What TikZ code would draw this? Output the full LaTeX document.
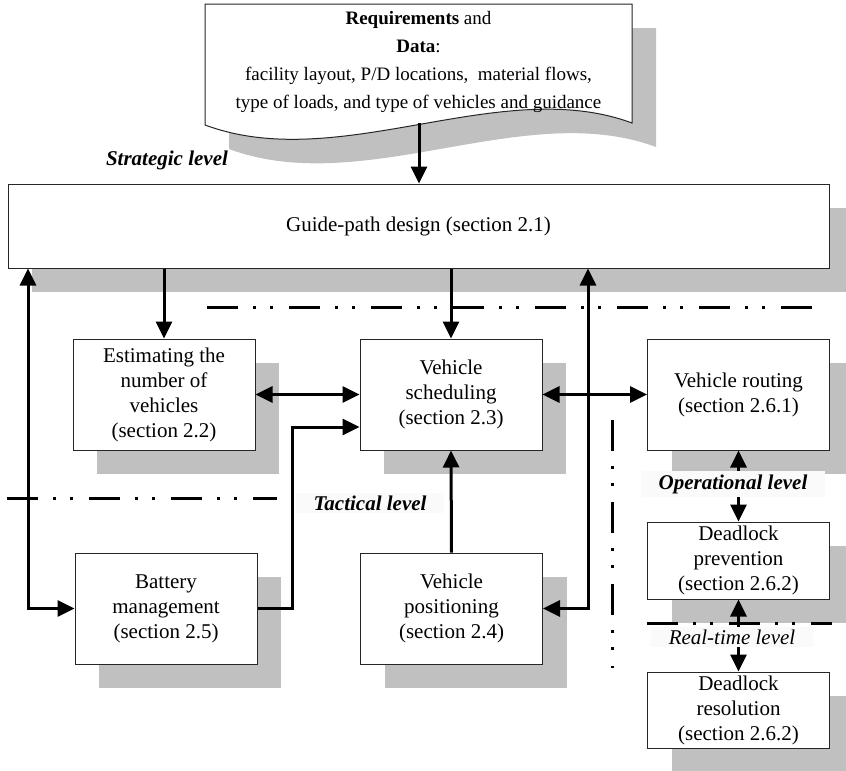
\documentclass[tikz,border=0pt]{standalone}
\usepackage{fontspec}
\setmainfont{Liberation Serif}
\usetikzlibrary{arrows.meta,shadows}

\definecolor{shadowgray}{RGB}{192,192,192}
\definecolor{labelbg}{RGB}{250,250,250}

\begin{document}
\begin{tikzpicture}[x=1pt,y=-1pt,
    block/.style={draw=black!85, line width=1pt, fill=white, align=center, inner sep=0pt,
        minimum width=182pt, minimum height=111pt, font=\fontsize{21}{25}\selectfont,
        drop shadow={shadow xshift=24pt, shadow yshift=-24pt, fill=shadowgray, opacity=1}},
    lvl/.style={font=\fontsize{21}{25}\selectfont\bfseries\itshape, fill=labelbg, inner xsep=18pt, inner ysep=3pt},
    arr/.style={line width=3pt, -{Triangle[length=17pt,width=16pt]}},
    both/.style={line width=3pt, {Triangle[length=17pt,width=16pt]}-{Triangle[length=17pt,width=16pt]}},
    levelline/.style={line width=3pt, dash pattern=on 31pt off 15pt on 3pt off 14pt on 3pt off 16pt}]

    \useasboundingbox (0,0) rectangle (846,771);

    % Input data sheet (with its shadow)
    \fill[shadowgray] (229,28) -- (656,28) -- (656,147) .. controls (524,98) and (364,199) .. (229,149) -- cycle;
    \filldraw[fill=white, draw=black!85, line width=1pt] (205,4) -- (632,4) -- (632,123) .. controls (500,74) and (340,175) .. (205,125) -- cycle;
    \node (req) at (418.5,62) [align=center, font=\fontsize{19}{28}\selectfont]
        {\textbf{Requirements} and\\ \textbf{Data}:\\ facility layout, P/D locations,\ \ material flows,\\ type of loads, and type of vehicles and guidance};
    \coordinate (wave) at (419,123);

    % Decision boxes
    \node[block, minimum width=821pt, minimum height=84pt] (guide) at (418.5,226) {Guide-path design (section 2.1)};
    \node[block] (est) at (164,394.5) {Estimating the\\ number of\\ vehicles\\ (section 2.2)};
    \node[block] (sched) at (451,394.5) {Vehicle\\ scheduling\\ (section 2.3)};
    \node[block] (route) at (738.5,394.5) {Vehicle routing\\ (section 2.6.1)};
    \node[block] (batt) at (166,608.5) {Battery\\ management\\ (section 2.5)};
    \node[block] (pos) at (451.5,608.5) {Vehicle\\ positioning\\ (section 2.4)};
    \node[block, minimum height=77pt] (prev) at (738.5,560.5) {Deadlock\\ prevention\\ (section 2.6.2)};
    \node[block, minimum height=76pt] (res) at (738.5,710) {Deadlock\\ resolution\\ (section 2.6.2)};

    % Level boundaries
    \draw[levelline] (207,307) -- (826,307);
    \draw[levelline] (7,498) -- (277,498);
    \draw[levelline] (612,420) -- (612,668);
    \draw[levelline] (647,623) -- (832,623);

    % Connectors
    \draw[arr] (wave) -- (wave |- guide.north);
    \draw[arr] (est.north |- guide.south) -- (est.north);
    \draw[arr] (sched.north |- guide.south) -- (sched.north);

    \coordinate (lbend) at (28,608.5);
    \draw[both] (batt.west) -- (lbend) -- (lbend |- guide.south);
    \coordinate (rbend) at (588,608.5);
    \draw[both] (pos.east) -- (rbend) -- (rbend |- guide.south);

    \draw[both] (est.east) -- (sched.west);
    \coordinate (bbend) at (292,427);
    \draw[arr] (batt.east) -| (bbend) -- (bbend -| sched.west);
    \draw[arr] (pos.north) -- (sched.south);
    \draw[both] (sched.east) -- (route.west);
    \draw[both] (route.south) -- (prev.north);
    \draw[both] (prev.south) -- (res.north);

    % Level labels
    \node[lvl, fill=none] (strat) at (167,160) {Strategic level};
    \node[lvl] (tact) at (370,503) {Tactical level};
    \node[lvl] (oper) at (733,484) {Operational level};
    \node[lvl, font=\fontsize{21}{25}\selectfont\itshape] (realt) at (732,637) {Real-time level};
\end{tikzpicture}
\end{document}
